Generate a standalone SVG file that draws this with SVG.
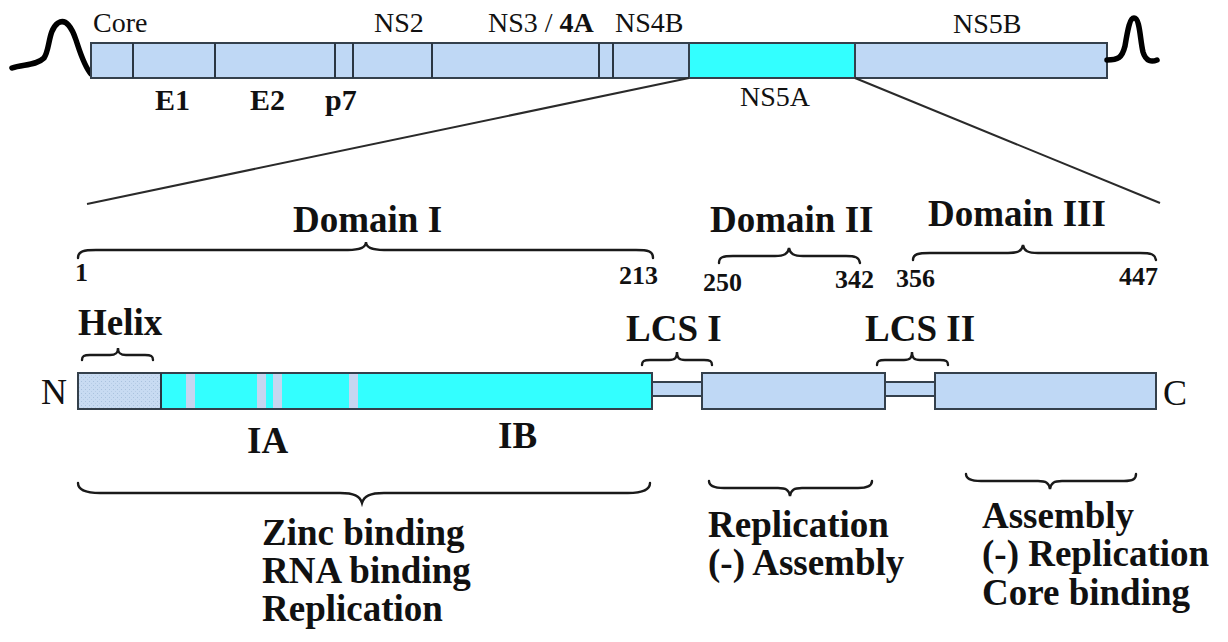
<svg xmlns="http://www.w3.org/2000/svg" width="1228" height="642" viewBox="0 0 1228 642">
  <style>
    .seg { fill: #bfd8f5; stroke: #34404c; stroke-width: 2; }
    .cyan { fill: #33ffff; stroke: #34404c; stroke-width: 2; }
    .div { stroke: #2a3642; stroke-width: 2; }
    .stripe { fill: #c6d6f0; }
    .brace { fill: none; stroke: #1a1a1a; stroke-width: 2.4; stroke-linecap: round; }
    .tail { fill: none; stroke: #000; stroke-width: 5.5; stroke-linecap: round; stroke-linejoin: round; }
    .zoom { stroke: #2a2a2a; stroke-width: 2; fill: none; }
    text { font-family: "Liberation Serif", "Times New Roman", serif; fill: #111; }
    .top { font-size: 28px; }
    .topb { font-size: 30px; font-weight: bold; }
    .big { font-size: 37px; font-weight: bold; }
    .num { font-size: 26px; font-weight: bold; }
    .end { font-size: 36px; }
  </style>
  <defs>
    <pattern id="dots" width="4" height="4" patternUnits="userSpaceOnUse">
      <rect width="4" height="4" fill="#c8dbf2"/>
      <rect x="1" y="1" width="1" height="1" fill="#a9c2de"/>
      <rect x="3" y="3" width="1" height="1" fill="#b6cce6"/>
    </pattern>
  </defs>

  <rect width="1228" height="642" fill="#ffffff"/>

  <!-- HCV polyprotein -->
  <g id="polyprotein">
    <path class="tail" d="M12,68 C22,64 36,66 44,58 C50,50 48,30 58,23 C66,18 72,28 76,40 C80,52 84,66 91,74"/>
    <rect class="seg" x="91" y="43" width="1016" height="35"/>
    <rect class="cyan" x="689" y="43" width="166" height="35"/>
    <line class="div" x1="133" y1="43" x2="133" y2="78"/>
    <line class="div" x1="215" y1="43" x2="215" y2="78"/>
    <line class="div" x1="335" y1="43" x2="335" y2="78"/>
    <line class="div" x1="353" y1="43" x2="353" y2="78"/>
    <line class="div" x1="432" y1="43" x2="432" y2="78"/>
    <line class="div" x1="599" y1="43" x2="599" y2="78"/>
    <line class="div" x1="613" y1="43" x2="613" y2="78"/>
    <path class="tail" d="M1107,60 C1118,60 1122,58 1125,46 C1128,28 1130,18 1134,18 C1140,18 1140,40 1143,52 C1146,62 1152,62 1157,60"/>
  </g>

  <g id="polyprotein-labels">
    <text class="top" x="93" y="32">Core</text>
    <text class="topb" x="155" y="110">E1</text>
    <text class="topb" x="250" y="110">E2</text>
    <text class="topb" x="325" y="110">p7</text>
    <text class="top" x="374" y="32">NS2</text>
    <text class="top" x="488" y="32">NS3 / <tspan font-weight="bold">4A</tspan></text>
    <text class="top" x="615" y="32">NS4B</text>
    <text class="top" x="740" y="106">NS5A</text>
    <text class="top" x="953" y="33">NS5B</text>
  </g>

  <!-- expansion lines from NS5A -->
  <g id="connectors">
    <line class="zoom" x1="689" y1="78" x2="87" y2="204"/>
    <line class="zoom" x1="855" y1="78" x2="1160" y2="203"/>
  </g>

  <!-- domain headers -->
  <g id="domain-1-header">
    <text class="big" x="293" y="232">Domain I</text>
    <path class="brace" d="M78,258 C78,251 84,250 96,250 L348,250 C360,250 366,248 366,242 C366,248 372,250 384,250 L636,250 C648,250 653,251 653,258"/>
    <text class="num" x="75" y="281">1</text>
    <text class="num" x="619" y="284">213</text>
  </g>
  <g id="domain-2-header">
    <text class="big" x="710" y="232">Domain II</text>
    <path class="brace" d="M719,263 C719,257 723,256 733,256 L775,256 C784,256 788,254 789,248 C790,254 794,256 803,256 L846,256 C855,256 859,257 860,263"/>
    <text class="num" x="703" y="291">250</text>
    <text class="num" x="835" y="288">342</text>
  </g>
  <g id="domain-3-header">
    <text class="big" x="928" y="226">Domain III</text>
    <path class="brace" d="M913,260 C913,254 918,253 930,253 L1008,253 C1018,253 1022,251 1023,245 C1024,251 1028,253 1038,253 L1140,253 C1151,253 1155,254 1156,260"/>
    <text class="num" x="896" y="287">356</text>
    <text class="num" x="1119" y="285">447</text>
  </g>

  <!-- segment labels above the bar -->
  <g id="helix-label">
    <text class="big" x="78" y="335">Helix</text>
    <path class="brace" d="M82,360 C82,356 84,355 90,355 L110,355 C116,355 118,353 118,348 C118,353 120,355 126,355 L145,355 C151,355 153,356 153,360"/>
  </g>
  <g id="lcs1-label">
    <text class="big" x="626" y="341">LCS I</text>
    <path class="brace" d="M642,365 C642,361 644,360 650,360 L669,360 C675,360 677,358 677,352 C677,358 679,360 685,360 L704,360 C710,360 712,361 712,365"/>
  </g>
  <g id="lcs2-label">
    <text class="big" x="865" y="341">LCS II</text>
    <path class="brace" d="M877,365 C877,361 879,360 885,360 L904,360 C910,360 912,358 912,352 C912,358 914,360 920,360 L940,360 C946,360 948,361 948,365"/>
  </g>

  <!-- NS5A protein -->
  <g id="ns5a-domain-1">
    <text class="end" x="41" y="404">N</text>
    <rect class="cyan" x="78" y="373" width="574" height="36"/>
    <rect x="79" y="374" width="82" height="34" fill="url(#dots)"/>
    <line class="div" x1="161" y1="373" x2="161" y2="409" stroke-width="1.5"/>
    <rect class="stripe" x="186" y="374" width="9" height="34"/>
    <rect class="stripe" x="257" y="374" width="9" height="34"/>
    <rect class="stripe" x="273" y="374" width="9" height="34"/>
    <rect class="stripe" x="349" y="374" width="9" height="34"/>
    <text class="big" x="247" y="453">IA</text>
    <text class="big" x="498" y="448">IB</text>
  </g>
  <g id="lcs1">
    <rect class="seg" x="652" y="382" width="50" height="14"/>
  </g>
  <g id="ns5a-domain-2">
    <rect class="seg" x="702" y="373" width="183" height="36"/>
  </g>
  <g id="lcs2">
    <rect class="seg" x="885" y="382" width="50" height="14"/>
  </g>
  <g id="ns5a-domain-3">
    <rect class="seg" x="935" y="373" width="221" height="36"/>
    <text class="end" x="1163" y="405">C</text>
  </g>

  <!-- functions -->
  <g id="domain-1-function">
    <path class="brace" d="M78,483 C78,490 86,493 100,493 L340,493 C354,493 360,496 362,503 C364,496 370,493 384,493 L628,493 C642,493 650,490 650,483"/>
    <text class="big" x="262" y="545">Zinc binding</text>
    <text class="big" x="262" y="583">RNA binding</text>
    <text class="big" x="262" y="621">Replication</text>
  </g>
  <g id="domain-2-function">
    <path class="brace" d="M709,481 C709,486 714,488 724,488 L778,488 C786,488 789,490 790,496 C791,490 794,488 802,488 L858,488 C868,488 872,486 872,481"/>
    <text class="big" x="708" y="537">Replication</text>
    <text class="big" x="708" y="575">(-) Assembly</text>
  </g>
  <g id="domain-3-function">
    <path class="brace" d="M966,474 C966,479 971,481 981,481 L1038,481 C1046,481 1049,483 1050,489 C1051,483 1054,481 1062,481 L1124,481 C1133,481 1136,479 1136,474"/>
    <text class="big" x="982" y="528">Assembly</text>
    <text class="big" x="982" y="566">(-) Replication</text>
    <text class="big" x="982" y="605">Core binding</text>
  </g>
</svg>
